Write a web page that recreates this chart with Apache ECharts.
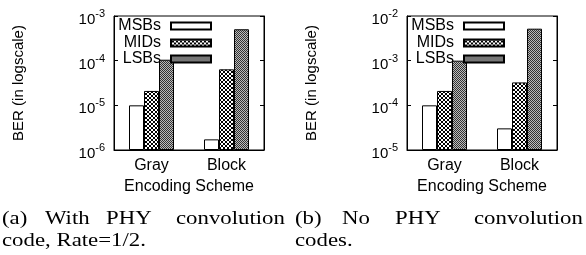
<!DOCTYPE html>
<html>
<head>
<meta charset="utf-8">
<script src="https://cdn.jsdelivr.net/npm/echarts@6/dist/echarts.min.js"></script>
<style>
  html, body { margin: 0; padding: 0; background: #fff; }
  #chart { width: 586px; height: 255px; }
</style>
</head>
<body>
<div id="chart"></div>
<script>
var categories = ['Gray', 'Block']
var seriesNames = ['MSBs', 'MIDs', 'LSBs']

// (a) with PHY convolution code
var convMSBs = [1.0e-5, 1.73e-6]
var convMIDs = [2.1e-5, 6.4e-5]
var convLSBs = [1.05e-4, 5.05e-4]

// (b) no PHY convolution codes
var noConvMSBs = [1.0e-4, 3.05e-5]
var noConvMIDs = [2.1e-4, 3.26e-4]
var noConvLSBs = [1.0e-3, 5.2e-3]

var yRangeA = [1e-6, 1e-3]
var yRangeB = [1e-5, 1e-2]

var SANS = 'Liberation Sans, Arial, sans-serif'
var SERIF = 'Liberation Serif, Times New Roman, serif'

function makePattern(size, draw) {
  var c = document.createElement('canvas')
  c.width = size
  c.height = size
  var ctx = c.getContext('2d')
  draw(ctx)
  return { image: c, repeat: 'repeat' }
}

// gnuplot-ish fill patterns
var midPattern = makePattern(4, function(ctx) {
  ctx.fillStyle = '#fff'
  ctx.fillRect(0, 0, 4, 4)
  ctx.fillStyle = '#000'
  for (var i = 0; i < 4; i++) {
    ctx.fillRect(i, i, 1, 1)
    ctx.fillRect(3 - i, i, 1, 1)
  }
})
var lsbPattern = makePattern(2, function(ctx) {
  ctx.fillStyle = '#bbb'
  ctx.fillRect(0, 0, 2, 2)
  ctx.fillStyle = '#333'
  ctx.fillRect(0, 0, 1, 1)
  ctx.fillRect(1, 1, 1, 1)
})
var fills = ['#fff', midPattern, lsbPattern]

function supLabel(v) {
  var e = Math.round(Math.log10(v))
  return '{a|10}{b|' + e + '}'
}

function yAxes(gridIndex, range) {
  var base = {
    type: 'log',
    logBase: 10,
    gridIndex: gridIndex,
    min: range[0],
    max: range[1],
    startValue: range[0],
    splitLine: { show: false },
    axisLine: { show: true, lineStyle: { color: '#000', width: 1 } },
    axisTick: { show: true, inside: true, length: 4, lineStyle: { color: '#000' } },
    minorTick: { show: false },
  }
  var left = Object.assign({}, base, {
    position: 'left',
    name: 'BER (in logscale)',
    nameLocation: 'middle',
    nameGap: 88,
    nameTextStyle: { fontFamily: SANS, fontSize: 15, color: '#000' },
    axisLabel: {
      margin: 9,
      formatter: supLabel,
      rich: {
        a: { fontFamily: SANS, fontSize: 15, color: '#000', padding: [8, 0, 0, 0] },
        b: { fontFamily: SANS, fontSize: 11, color: '#000', padding: [0, 0, 4, 0] },
      },
    },
  })
  var right = Object.assign({}, base, {
    position: 'right',
    axisLabel: { show: false },
  })
  return [left, right]
}

function xAxis(gridIndex) {
  return {
    type: 'category',
    gridIndex: gridIndex,
    data: categories,
    name: 'Encoding Scheme',
    nameLocation: 'middle',
    nameGap: 23,
    nameTextStyle: { fontFamily: SANS, fontSize: 16, color: '#000' },
    axisLine: { show: true, lineStyle: { color: '#000', width: 1 } },
    axisTick: { show: false },
    axisLabel: { margin: 8, fontFamily: SANS, fontSize: 16, color: '#000' },
  }
}

function bars(gridIndex, datasets) {
  return datasets.map(function(d, i) {
    return {
      name: seriesNames[i],
      type: 'bar',
      xAxisIndex: gridIndex,
      yAxisIndex: gridIndex * 2,
      data: d,
      barWidth: 15,
      barGap: '0%',
      silent: true,
      itemStyle: { color: fills[i], borderColor: '#000', borderWidth: 1 },
    }
  })
}

function legends(iconRight) {
  var tops = [18, 35, 51]
  return seriesNames.map(function(n, i) {
    return {
      data: [n],
      right: iconRight,
      top: tops[i],
      align: 'right',
      orient: 'vertical',
      padding: 0,
      icon: 'rect',
      itemWidth: 40,
      itemHeight: 7,
      selectedMode: false,
      textStyle: { fontFamily: SANS, fontSize: 16, color: '#000', padding: [0, 5, 0, 0] },
    }
  })
}

// caption words, justified like the paper: [text, x, baseline]
var captionWords = [
  ['(a)', 2, 226], ['With', 45, 226], ['PHY', 106, 226], ['convolution', 176, 226],
  ['code, Rate=1/2.', 2, 248],
  ['(b)', 295, 226], ['No', 342, 226], ['PHY', 395, 226], ['convolution', 474, 226],
  ['codes.', 295, 248],
]

var chart = echarts.init(document.getElementById('chart'))
var option = {
  animation: false,
  backgroundColor: '#fff',
  grid: [
    { left: 114, right: 322, top: 16, bottom: 105, show: true, borderColor: '#000', borderWidth: 1 },
    { left: 407, right: 29, top: 16, bottom: 105, show: true, borderColor: '#000', borderWidth: 1 },
  ],
  legend: legends(374).concat(legends(81)),
  xAxis: [xAxis(0), xAxis(1)],
  yAxis: yAxes(0, yRangeA).concat(yAxes(1, yRangeB)),
  series: bars(0, [convMSBs, convMIDs, convLSBs]).concat(bars(1, [noConvMSBs, noConvMIDs, noConvLSBs])),
  graphic: captionWords.map(function(w) {
    return {
      type: 'text',
      x: w[1],
      y: w[2] - 16,
      scaleX: 1.2,
      silent: true,
      style: {
        text: w[0],
        font: '19px ' + SERIF,
        fill: '#000',
      },
    }
  }),
}
chart.setOption(option)
</script>
</body>
</html>
